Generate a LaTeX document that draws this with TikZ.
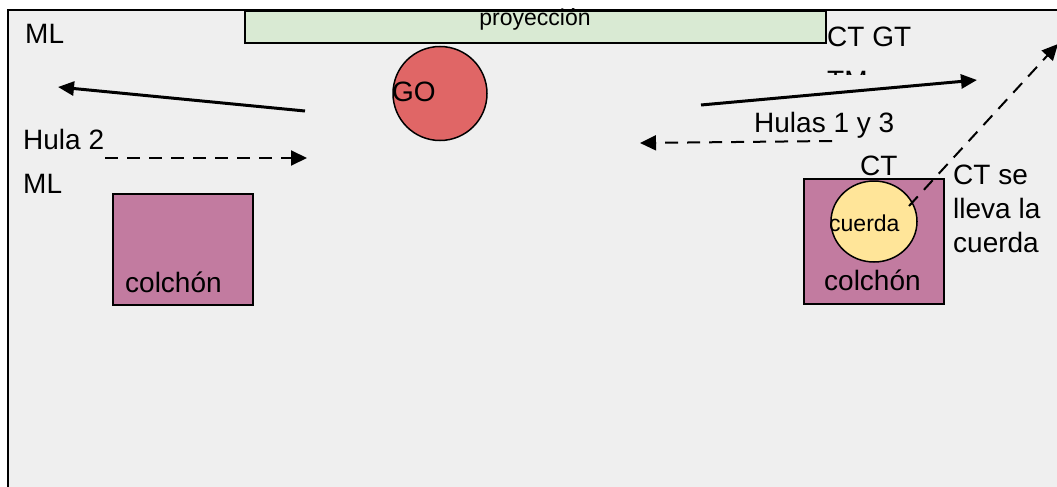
\documentclass[tikz,border=0pt]{standalone}
\usepackage{fontspec}
\setmainfont{Liberation Sans}
\usepackage{xcolor}
\usetikzlibrary{arrows.meta}
\definecolor{fondo}{HTML}{EFEFEF}
\definecolor{verde}{HTML}{D9EAD3}
\definecolor{rojo}{HTML}{E06666}
\definecolor{rosa}{HTML}{C27BA0}
\definecolor{amarillo}{HTML}{FFE599}
\tikzset{
    lbl/.style={inner sep=0pt, font=\fontsize{28}{34}\selectfont},
    lblsmall/.style={inner sep=0pt, font=\fontsize{23}{27}\selectfont},
    zona/.style={draw, line width=1.5pt}}
\tikzset{
    mov/.style={line width=3pt, -{Triangle[length=16pt,width=14pt]}},
    movd/.style={line width=2pt, dash pattern=on 13pt off 9pt, -{Triangle[length=16pt,width=15pt]}}}

\begin{document}
\begin{tikzpicture}[x=1pt,y=-1pt]
\clip (0,0) rectangle (1057,487);
\draw[zona, fill=fondo] (8,10) rectangle (1090,520);
\draw[zona, fill=verde] (245,11) rectangle (826,43);
\node[lblsmall, anchor=base] (proy) at (535,26) {proyección};

\draw[zona, fill=rojo] (440,93.5) circle (47);
\node[lbl, anchor=base west] (go) at (392,101) {GO};

\draw[zona, fill=rosa] (113,194) rectangle (253,305);
\draw[zona, fill=rosa] (804,179) rectangle (944,304);
\draw[zona, fill=amarillo] (874,221.5) ellipse (43 and 40.5);
\node[lbl, anchor=base west] (colch1) at (125,292) {colchón};
\node[lbl, anchor=base west] (colch2) at (824,290) {colchón};
\node[lblsmall, anchor=base west] (cuerda) at (829,231) {cuerda};

\node[lbl, anchor=base west] (ml1) at (25,44) {ML};
\node[lbl, anchor=base west] (hula2) at (23,149) {Hula 2};
\node[lbl, anchor=base west] (ml2) at (23,193) {ML};
\node[lbl, anchor=base west] (ctgt) at (827,47) {CT GT};
\begin{scope}
\clip (800,60) rectangle (900,74);
\node[lbl, anchor=base west] (tm) at (827,90) {TM};
\end{scope}
\node[lbl, anchor=base west] (hulas) at (754,132) {Hulas 1 y 3};
\node[lbl, anchor=base west] (ct) at (860,175) {CT};
\node[lbl, anchor=north west, align=left] (ctse) at (953,164.5) {CT se\\lleva la\\cuerda};

% recorridos
\coordinate (a1) at (305,111);
\coordinate (a2) at (58,87);
\coordinate (a3) at (701,105);
\coordinate (a4) at (977,80);
\coordinate (d1) at (105,158);
\coordinate (d2) at (307,158);
\coordinate (d3) at (832,141);
\coordinate (d4) at (640,143);
\coordinate (d5) at (909,206);
\coordinate (d6) at (1058,44);
\draw[mov] (a1) -- (a2);
\draw[mov] (a3) -- (a4);
\draw[movd] (d1) -- (d2);
\draw[movd] (d3) -- (d4);
\draw[movd] (d5) -- (d6);
\end{tikzpicture}
\end{document}
